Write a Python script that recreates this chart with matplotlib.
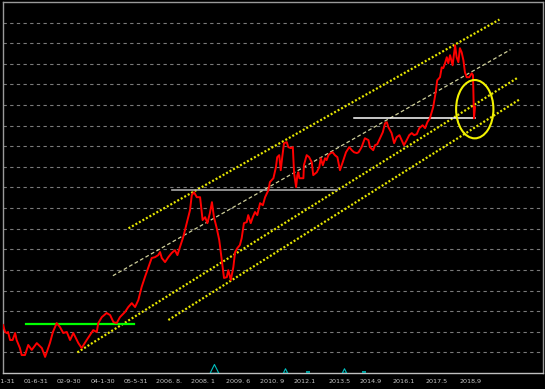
import matplotlib
matplotlib.use('Agg')
import matplotlib.pyplot as plt
from matplotlib.patches import Ellipse

# price path (decimal year, level on the chart's unlabeled scale; grid every 10)
years = [
    2000.08, 2000.16, 2000.23, 2000.28, 2000.36, 2000.46, 2000.56, 2000.62, 2000.75, 2000.82,
    2000.95, 2001.08, 2001.22, 2001.42, 2001.62, 2001.75, 2001.94, 2002.06, 2002.21, 2002.34,
    2002.47, 2002.61, 2002.74, 2002.87, 2003.07, 2003.20, 2003.40, 2003.53, 2003.66, 2003.80,
    2003.86, 2004.00, 2004.19, 2004.33, 2004.46, 2004.59, 2004.72, 2004.92, 2005.05, 2005.19,
    2005.32, 2005.45, 2005.52, 2005.58, 2005.71, 2005.85, 2005.98, 2006.11, 2006.24, 2006.31,
    2006.38, 2006.51, 2006.64, 2006.77, 2006.90, 2007.00, 2007.10, 2007.23, 2007.37, 2007.50,
    2007.57, 2007.66, 2007.77, 2007.90, 2008.00, 2008.10, 2008.19, 2008.29, 2008.37, 2008.45,
    2008.56, 2008.66, 2008.76, 2008.85, 2008.96, 2009.02, 2009.12, 2009.22, 2009.29, 2009.38,
    2009.48, 2009.55, 2009.64, 2009.75, 2009.81, 2009.91, 2009.99, 2010.08, 2010.17, 2010.28,
    2010.39, 2010.48, 2010.61, 2010.67, 2010.81, 2010.91, 2010.96, 2011.04, 2011.10, 2011.16,
    2011.23, 2011.34, 2011.40, 2011.50, 2011.58, 2011.63, 2011.71, 2011.76, 2011.80, 2011.84,
    2012.00, 2012.02, 2012.13, 2012.23, 2012.33, 2012.39, 2012.53, 2012.63, 2012.69, 2012.77,
    2012.86, 2012.92, 2012.99, 2013.08, 2013.16, 2013.25, 2013.35, 2013.45, 2013.56, 2013.69,
    2013.82, 2013.92, 2014.01, 2014.12, 2014.19, 2014.31, 2014.44, 2014.58, 2014.64, 2014.77,
    2014.84, 2014.93, 2015.04, 2015.15, 2015.24, 2015.31, 2015.37, 2015.50, 2015.60, 2015.70,
    2015.81, 2015.90, 2015.99, 2016.10, 2016.20, 2016.30, 2016.39, 2016.50, 2016.60, 2016.73,
    2016.83, 2016.92, 2017.02, 2017.15, 2017.25, 2017.31, 2017.42, 2017.49, 2017.55, 2017.62,
    2017.69, 2017.75, 2017.82, 2017.92, 2018.02, 2018.08, 2018.15, 2018.21, 2018.28, 2018.35,
    2018.41, 2018.48, 2018.58, 2018.68, 2018.73, 2018.77, 2018.81,
]
price = [
    23.3, 19.9, 19.4, 19.9, 16.0, 16.0, 19.4, 16.0, 12.1, 8.7,
    8.7, 13.6, 11.2, 14.5, 12.1, 7.8, 14.5, 19.9, 24.2, 22.3,
    19.4, 19.9, 16.0, 19.4, 14.5, 12.1, 16.0, 18.4, 20.8, 19.9,
    24.2, 27.1, 29.1, 28.1, 24.7, 24.2, 27.1, 29.6, 32.0, 33.9,
    32.0, 35.4, 38.8, 41.7, 46.5, 51.4, 55.8, 56.2, 57.2, 58.7,
    55.8, 53.8, 56.2, 58.2, 59.6, 57.2, 61.1, 65.9, 72.7, 79.0,
    86.3, 87.7, 85.3, 85.3, 74.2, 75.6, 72.7, 77.6, 82.9, 75.6,
    70.3, 64.5, 54.8, 46.1, 46.5, 49.9, 45.1, 51.4, 58.7, 60.6,
    62.1, 65.4, 72.7, 73.2, 76.6, 72.7, 75.6, 78.1, 76.6, 82.4,
    81.4, 85.3, 88.7, 92.6, 94.5, 99.9, 104.7, 105.7, 98.4, 104.7,
    111.5, 112.0, 109.6, 109.1, 109.6, 97.0, 90.2, 96.0, 97.4, 94.5,
    94.5, 100.8, 105.7, 104.7, 102.3, 96.0, 97.4, 99.9, 104.2, 100.8,
    104.2, 103.3, 105.7, 106.7, 107.1, 105.7, 104.7, 98.4, 102.3, 107.1,
    109.6, 108.1, 107.1, 106.7, 107.1, 109.6, 113.9, 113.0, 109.6, 108.1,
    110.5, 111.0, 113.9, 116.8, 121.2, 121.7, 119.3, 116.4, 111.5, 114.4,
    115.4, 113.0, 110.5, 113.0, 115.4, 116.4, 115.4, 115.9, 118.8, 120.2,
    118.8, 121.7, 123.6, 129.0, 136.2, 142.0, 143.5, 148.3, 147.9, 150.3,
    153.2, 150.3, 154.2, 149.3, 159.0, 153.2, 150.8, 157.6, 155.6, 151.7,
    145.9, 143.5, 143.5, 145.4, 144.5, 123.6, 129.0,
]

# trend channel: (start year, start level, end year, end level)
channel_upper = (2005.06, 70.2, 2019.78, 171.5)
channel_mid = (2004.44, 47.2, 2020.22, 156.9)
channel_low1 = (2003.03, 10.0, 2020.52, 143.4)
channel_low2 = (2006.64, 25.7, 2020.56, 132.6)

# horizontal support / resistance levels: (from year, to year, level)
green_level = (2001.01, 2005.28, 23.9)
gray_level = (2006.79, 2013.33, 88.7)
white_level = (2013.99, 2018.81, 123.6)

# circled area
circle_center = (2018.80, 128.0)
circle_size = (1.48, 28.3)

# small cyan marks in the bottom strip
mark_years = [2008.47, 2011.29, 2013.63]
mark_levels = [2.0, 1.0, 1.0]
mark_sizes = [40, 10, 10]
dash_years = [2012.2, 2014.40]

tick_years = [2000.08, 2001.39, 2002.70, 2004.05, 2005.36, 2006.67, 2008.02, 2009.40,
              2010.75, 2012.06, 2013.45, 2014.68, 2015.99, 2017.30, 2018.65]
tick_labels = ['00-1-31', '01-6-31', '02-9-30', '04-1-30', '05-5-31', '2006. 8.', '2008. 1',
               '2009. 6', '2010. 9', '2012.1', '2013.5', '2014.9', '2016.1', '2017.5', '2018,9']

fig = plt.figure(figsize=(5.45, 3.89), dpi=100, facecolor='black')
ax = fig.add_axes([3 / 545, 1 - 373 / 389, 540 / 545, 371 / 389])
ax.set_facecolor('black')
ax.set_xlim(2000.079, 2021.508)
ax.set_ylim(0, 180)

# dashed horizontal grid
for lv in range(10, 180, 10):
    ax.axhline(lv, color='#7a7a7a', lw=0.8, dashes=(3, 3), zorder=1)

# channel lines
for seg in (channel_upper, channel_low1, channel_low2):
    ax.plot([seg[0], seg[2]], [seg[1], seg[3]], color='#e6e600', lw=1.6,
            dashes=(0.9, 0.9), zorder=2)
ax.plot([channel_mid[0], channel_mid[2]], [channel_mid[1], channel_mid[3]],
        color='#cfcf9a', lw=0.9, dashes=(3, 2), zorder=2)

# horizontal levels
ax.plot(green_level[:2], [green_level[2]] * 2, color='#00ff00', lw=1.6, zorder=3)
ax.plot(gray_level[:2], [gray_level[2]] * 2, color='#a8a8a8', lw=1.2, zorder=3)
ax.plot(white_level[:2], [white_level[2]] * 2, color='white', lw=1.1, zorder=3)

ax.plot(years, price, color='#ff0000', lw=1.4, zorder=4)

ax.add_patch(Ellipse(circle_center, circle_size[0], circle_size[1], fill=False,
                     edgecolor='#f2f200', lw=1.5, zorder=5))

ax.scatter(mark_years, mark_levels, s=mark_sizes, marker='^', facecolors='none',
           edgecolors='#00c0c0', linewidths=0.8, zorder=3)
ax.scatter(dash_years, [0.6] * len(dash_years), s=12, marker='_', color='#00c0c0',
           linewidths=1.2, zorder=3)

for side in ('left', 'top', 'right'):
    ax.spines[side].set_color('#9a9a9a')
    ax.spines[side].set_linewidth(1.0)
ax.spines['bottom'].set_color('#c0c0c0')
ax.spines['bottom'].set_linestyle((0, (1, 1)))
ax.spines['bottom'].set_linewidth(1.0)

ax.set_yticks([])
ax.set_xticks(tick_years)
ax.set_xticklabels(tick_labels, fontsize=4.6, color='#c8c8c8', family='DejaVu Sans')
ax.tick_params(axis='x', length=0, pad=4.5)

fig.savefig('out.png', dpi=100, facecolor='black')
